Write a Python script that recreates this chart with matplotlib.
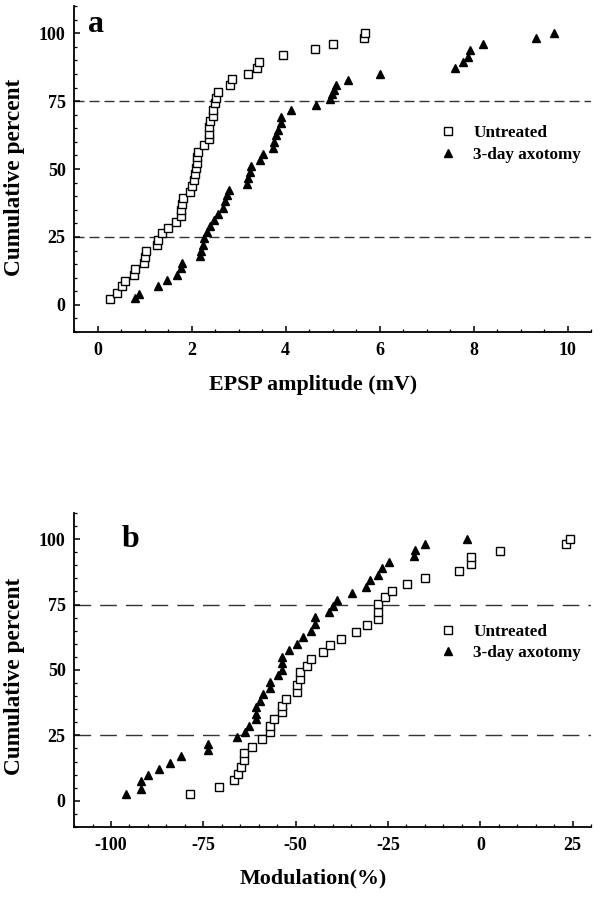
import matplotlib
matplotlib.use("Agg")
import matplotlib.pyplot as plt
from matplotlib.ticker import MultipleLocator
from matplotlib.lines import Line2D

# panel a: EPSP amplitude (mV) vs cumulative percent
epsp_untreated_x = [0.27, 0.42, 0.51, 0.58, 0.78, 0.80, 0.99, 1.00, 1.03, 1.26,
                    1.29, 1.38, 1.50, 1.67, 1.78, 1.78, 1.79, 1.82, 1.96, 2.00,
                    2.05, 2.08, 2.10, 2.12, 2.12, 2.13, 2.26, 2.37, 2.38, 2.38,
                    2.40, 2.46, 2.46, 2.49, 2.51, 2.56, 2.81, 2.85, 3.20, 3.39,
                    3.43, 3.95, 4.63, 5.00, 5.66, 5.69]
epsp_untreated_y = [2.2, 4.5, 6.8, 8.9, 11.1, 13.3, 15.4, 17.5, 19.9, 21.9,
                    24.0, 26.3, 28.4, 30.6, 32.7, 35.0, 37.2, 39.2, 41.4, 43.6,
                    45.9, 48.0, 50.2, 52.3, 54.3, 56.4, 58.8, 60.9, 63.0, 65.3,
                    67.5, 69.5, 71.8, 74.2, 76.3, 78.5, 80.8, 83.0, 85.1, 87.2,
                    89.4, 91.9, 94.0, 96.2, 98.2, 100.0]
epsp_axotomy_x = [0.80, 0.88, 1.29, 1.47, 1.69, 1.77, 1.79, 2.18, 2.21, 2.25,
                  2.27, 2.33, 2.39, 2.47, 2.56, 2.67, 2.72, 2.75, 2.80, 3.18,
                  3.21, 3.25, 3.26, 3.46, 3.53, 3.73, 3.75, 3.79, 3.83, 3.90,
                  3.90, 4.12, 4.64, 4.94, 4.98, 5.04, 5.07, 5.32, 6.00, 7.60,
                  7.78, 7.87, 7.93, 8.19, 9.32, 9.71]
epsp_axotomy_y = [2.5, 4.0, 6.8, 9.2, 11.1, 13.5, 15.4, 17.8, 19.9, 22.1,
                  24.5, 26.8, 28.9, 31.1, 33.5, 35.7, 38.1, 40.3, 42.4, 44.6,
                  46.8, 49.0, 51.0, 53.5, 55.7, 57.8, 60.1, 62.5, 64.3, 67.0,
                  69.2, 71.7, 73.4, 75.9, 77.5, 79.1, 80.8, 82.8, 84.9, 87.1,
                  89.3, 91.4, 93.9, 96.0, 98.2, 100.0]

# panel b: modulation (%) vs cumulative percent
mod_untreated_x = [-78.7, -70.7, -66.8, -65.7, -64.7, -63.9, -63.9, -61.7, -59.0, -56.9,
                   -56.9, -55.8, -53.7, -53.7, -52.7, -49.7, -49.7, -48.9, -48.9, -46.8,
                   -45.8, -42.6, -40.7, -37.7, -33.7, -30.6, -27.7, -27.7, -27.7, -25.7,
                   -23.9, -19.9, -14.9, -5.8, -2.6, -2.6, 5.2, 23.2, 24.3]
mod_untreated_y = [2.6, 5.1, 7.9, 10.2, 13.0, 15.6, 18.1, 20.7, 23.6, 26.2,
                   28.7, 31.3, 33.8, 36.4, 39.0, 41.5, 44.1, 46.6, 49.2, 51.7,
                   54.3, 56.8, 59.6, 61.9, 64.5, 67.3, 69.6, 72.2, 75.1, 77.7,
                   80.1, 82.8, 85.2, 87.9, 90.4, 93.0, 95.5, 98.3, 100.0]
mod_axotomy_x = [-95.8, -91.9, -91.9, -90.0, -87.1, -84.0, -81.0, -73.8, -73.8, -65.8,
                 -63.7, -62.7, -60.7, -60.7, -60.7, -59.7, -58.8, -56.9, -56.9, -54.8,
                 -53.7, -53.7, -53.7, -51.8, -49.7, -47.9, -45.8, -44.8, -44.8, -41.0,
                 -39.8, -38.7, -34.8, -30.9, -29.8, -27.7, -26.7, -24.8, -18.0, -17.8,
                 -14.9, -3.7]
mod_axotomy_y = [2.6, 4.5, 7.7, 9.8, 12.1, 14.6, 17.1, 19.4, 21.7, 24.3,
                 26.4, 28.7, 31.2, 33.2, 35.8, 38.3, 40.9, 43.0, 45.3, 47.9,
                 50.0, 52.6, 54.9, 57.5, 60.0, 62.6, 64.9, 67.4, 70.2, 72.2,
                 74.5, 76.9, 79.4, 81.7, 84.3, 86.2, 88.8, 91.3, 93.6, 96.0,
                 98.3, 100.0]

quartiles = [25, 75]
y_ticks = [0, 25, 50, 75, 100]
legend_labels = ["Untreated", "3-day axotomy"]

plt.rcParams["font.family"] = ["Liberation Serif", "DejaVu Serif"]
plt.rcParams["font.weight"] = "bold"
plt.rcParams["axes.labelweight"] = "bold"
plt.rcParams["axes.unicode_minus"] = False


def draw_panel(ax, ux, uy, tx, ty, xlim, xmajor, xminor, dash, letter, letter_xy,
               xlabel, leg_y, ylab_y, xlab_y):
    ax.set_xlim(*xlim)
    ax.set_ylim(-10, 110)
    ax.spines["top"].set_visible(False)
    ax.spines["right"].set_visible(False)
    for s in ("left", "bottom"):
        ax.spines[s].set_linewidth(1.3)
    ax.set_yticks(y_ticks)
    ax.yaxis.set_minor_locator(MultipleLocator(5))
    ax.xaxis.set_major_locator(MultipleLocator(xmajor))
    ax.xaxis.set_minor_locator(MultipleLocator(xminor))
    ax.tick_params(which="both", direction="in", labelsize=13)
    ax.tick_params(which="major", length=4, width=1.1)
    ax.tick_params(which="minor", length=2.5, width=0.9)
    ax.tick_params(axis="x", pad=7)
    ax.tick_params(axis="y", pad=6)

    for q in quartiles:
        ax.axhline(q, color="#333333", lw=1.0, dashes=dash, zorder=1)

    ax.plot(ux, uy, ls="none", marker="s", ms=5.2, mfc="white", mec="black",
            mew=1.0, zorder=3)
    ax.plot(tx, ty, ls="none", marker="^", ms=6.2, color="black", zorder=3)

    ax.text(letter_xy[0], letter_xy[1], letter, fontsize=23, fontweight="bold",
            ha="left", va="baseline")

    ax.set_xlabel(xlabel, fontsize=15.8)
    ax.xaxis.set_label_coords(0.463, xlab_y)
    ax.set_ylabel("Cumulative percent", fontsize=16.8)
    ax.yaxis.set_label_coords(-0.095, ylab_y)

    handles = [Line2D([], [], ls="none", marker="s", ms=5.2, mfc="white",
                      mec="black", mew=1.0),
               Line2D([], [], ls="none", marker="^", ms=6.2, color="black")]
    ax.legend(handles, legend_labels, loc="center left",
              bbox_to_anchor=(0.703, leg_y), frameon=False, fontsize=12.3,
              handlelength=1.2, handletextpad=0.9, labelspacing=0.33,
              borderpad=0, borderaxespad=0)


fig = plt.figure(figsize=(6.02, 8.99), dpi=100)
ax_a = fig.add_axes([0.123, 0.6307, 0.859, 0.3626])
ax_b = fig.add_axes([0.123, 0.0801, 0.859, 0.3493])

draw_panel(ax_a, epsp_untreated_x, epsp_untreated_y, epsp_axotomy_x, epsp_axotomy_y,
           (-0.5, 10.5), 2, 0.5, (7.2, 3.6), "a", (-0.2, 100.5),
           "EPSP amplitude (mV)", 0.577, 0.475, -0.131)
draw_panel(ax_b, mod_untreated_x, mod_untreated_y, mod_axotomy_x, mod_axotomy_y,
           (-110, 30), 25, 5, (12, 6.5), "b", (-97.2, 97),
           "Modulation(%)", 0.588, 0.48, -0.133)

fig.savefig("out.png", dpi=100)
